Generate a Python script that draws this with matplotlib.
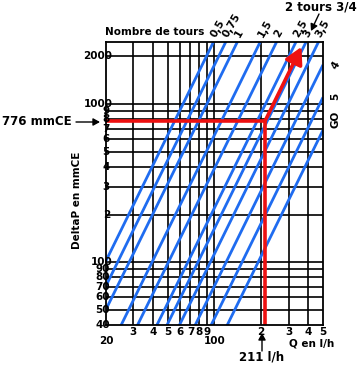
import numpy as np
import matplotlib
matplotlib.use("Agg")
import matplotlib.pyplot as plt

## chart values
kv_labels = ['0,5', '0,75', '1', '1,5', '2', '2,5', '3', '3,5', '4', '5', 'GO']
kv_values = [0.20, 0.24, 0.285, 0.40, 0.51, 0.68, 0.79, 0.95, 1.20, 1.52, 1.93]
q_ticks = [20, 30, 40, 50, 60, 70, 80, 90, 100, 200, 300, 400, 500]
q_labels = ['20', '3', '4', '5', '6', '7', '8', '9', '100', '2', '3', '4', '5']
dp_ticks = [40, 50, 60, 70, 80, 90, 100, 200, 300, 400, 500, 600, 700, 800, 900, 1000, 2000]
dp_labels = ['40', '50', '60', '70', '80', '90', '100', '2', '3', '4', '5', '6', '7', '8', '9', '1000', '2000']
q_sel = 211      # l/h
dp_sel = 776     # mmCE
dp_arrow_end = 2300

Q_MIN, Q_MAX = 20, 500
DP_MIN, DP_MAX = 40, 2470
BLUE = '#1f6cf0'
RED = '#ee1111'

plt.rcParams['font.family'] = 'DejaVu Sans'
plt.rcParams['font.weight'] = 'bold'

W, H = 359, 365
fig = plt.figure(figsize=(W / 100, H / 100), dpi=100)
ax = fig.add_axes([106 / W, 1 - 325 / H, (323 - 106) / W, (325 - 42) / H])
ax.set_xscale('log')
ax.set_yscale('log')
ax.set_xlim(Q_MIN, Q_MAX)
ax.set_ylim(DP_MIN, DP_MAX)

def dp_of(q, kv):
    # mmCE for a flow in l/h through a Kv (m3/h)
    return 10197.0 * (q / 1000.0 / kv) ** 2

## grid
for q in q_ticks[1:-1]:
    ax.axvline(q, color='black', lw=1.2, zorder=1)
for dp in dp_ticks[1:]:
    ax.axhline(dp, color='black', lw=1.2, zorder=1)

## Kv lines
q = np.array([Q_MIN, Q_MAX], dtype=float)
for kv in kv_values:
    ax.plot(q, dp_of(q, kv), color=BLUE, lw=2.0, zorder=2, solid_capstyle='butt')

## red reading example
ax.plot([Q_MIN, q_sel], [dp_sel, dp_sel], color=RED, lw=2.6, zorder=3)
ax.plot([q_sel, q_sel], [DP_MIN, dp_sel], color=RED, lw=2.6, zorder=3)
kv_sel = q_sel / 1000.0 / np.sqrt(dp_sel / 10197.0)
q_end = kv_sel * 1000.0 * np.sqrt(dp_arrow_end / 10197.0)
ax.annotate('', xy=(q_end, dp_arrow_end), xytext=(q_sel, dp_sel),
            arrowprops=dict(arrowstyle='-|>,head_length=1.0,head_width=0.55',
                            color=RED, lw=2.6, shrinkA=0, shrinkB=0), zorder=4)

for s in ax.spines.values():
    s.set_linewidth(1.3)
    s.set_zorder(5)

ax.set_xticks(q_ticks)
ax.set_xticklabels([])
ax.set_yticks(dp_ticks)
ax.set_yticklabels([])
ax.minorticks_off()
ax.tick_params(length=0)

fs = 7.5
## y tick labels
for dp, lab in zip(dp_ticks, dp_labels):
    ax.text(22.0 if len(lab) > 2 else 21.2, dp, lab, ha='right', va='center',
            fontsize=fs, fontweight='bold', zorder=6, clip_on=False)

## x tick labels
for qv, lab in zip(q_ticks, q_labels):
    low = lab in ('20', '100')
    ax.annotate(lab, xy=(qv, DP_MIN), xytext=(0, -8 if low else -1.5),
                textcoords='offset points', ha='center', va='top',
                fontsize=fs, fontweight='bold')

## Kv labels along the top and the right side
side_offsets = {'4': 0, '5': 1, 'GO': 8}
for kv, lab in zip(kv_values, kv_labels):
    q_top = kv * 1000.0 * np.sqrt(DP_MAX / 10197.0)
    if q_top <= Q_MAX:
        ax.annotate(lab, xy=(q_top, DP_MAX), xytext=(3, 2), textcoords='offset points',
                    rotation=60, rotation_mode='anchor', ha='left', va='bottom',
                    fontsize=fs, fontweight='bold')
    else:
        ax.annotate(lab, xy=(Q_MAX, dp_of(Q_MAX, kv)), xytext=(9, side_offsets[lab]),
                    textcoords='offset points', rotation=90 if lab != '4' else 60,
                    ha='center', va='center', fontsize=fs, fontweight='bold')

fig.text(155 / W, 1 - 32 / H, 'Nombre de tours', ha='center', va='center',
         fontsize=fs, fontweight='bold')
fig.text(77 / W, 1 - 200 / H, 'DeltaP en mmCE', ha='center', va='center',
         rotation=90, fontsize=fs, fontweight='bold')
fig.text(312 / W, 1 - 344 / H, 'Q en l/h', ha='center', va='center',
         fontsize=fs, fontweight='bold')
fig.text(2 / W, 1 - 122 / H, '776 mmCE', ha='left', va='center',
         fontsize=8.5, fontweight='bold')
fig.text(262 / W, 1 - 357 / H, '211 l/h', ha='center', va='center',
         fontsize=8.5, fontweight='bold')
fig.text(357 / W, 1 - 7 / H, '2 tours 3/4', ha='right', va='center',
         fontsize=8.5, fontweight='bold')

## small black pointers
def pointer(x0, y0, x1, y1):
    fig.patches.append(matplotlib.patches.FancyArrowPatch(
        (x0 / W, 1 - y0 / H), (x1 / W, 1 - y1 / H), transform=fig.transFigure,
        arrowstyle='-|>,head_length=4,head_width=2.2', color='black', lw=1.0,
        shrinkA=0, shrinkB=0))

pointer(76, 122, 100, 122)
pointer(262, 351, 262, 333)
pointer(319, 14, 311, 31)

fig.savefig('out.png', dpi=100)
